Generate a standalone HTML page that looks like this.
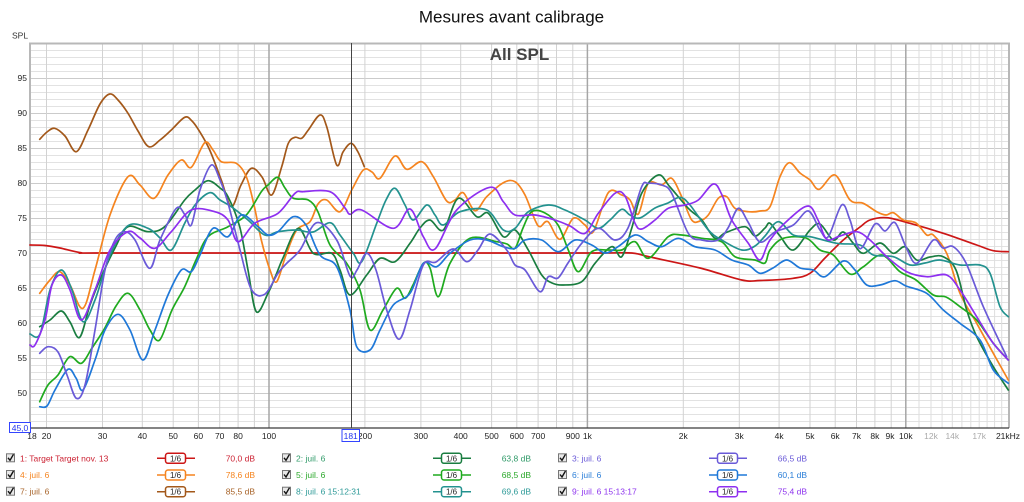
<!DOCTYPE html>
<html><head><meta charset="utf-8">
<style>
html,body{margin:0;padding:0;background:#fff;}
svg{display:block;font-family:"Liberation Sans",Arial,sans-serif;}
.c{fill:none;stroke-width:1.7;stroke-linejoin:round;stroke-linecap:round;}
</style></head>
<body>
<svg id="s" width="1024" height="502" viewBox="0 0 1024 502" xmlns="http://www.w3.org/2000/svg">
<rect width="1024" height="502" fill="#fff"/>
<text x="511.5" y="22.5" font-size="17" text-anchor="middle" fill="#111">Mesures avant calibrage</text>
<text x="12" y="38.5" font-size="8.5" fill="#333">SPL</text>

<!-- horizontal minor grid -->
<path stroke="#e2e2e2" stroke-width="1" fill="none" d="M30 50.5H1009M30 57.5H1009M30 64.5H1009M30 71.5H1009M30 85.5H1009M30 92.5H1009M30 99.5H1009M30 106.5H1009M30 120.5H1009M30 127.5H1009M30 134.5H1009M30 141.5H1009M30 155.5H1009M30 162.5H1009M30 169.5H1009M30 176.5H1009M30 190.5H1009M30 197.5H1009M30 204.5H1009M30 211.5H1009M30 225.5H1009M30 232.5H1009M30 239.5H1009M30 246.5H1009M30 260.5H1009M30 267.5H1009M30 274.5H1009M30 281.5H1009M30 295.5H1009M30 302.5H1009M30 309.5H1009M30 316.5H1009M30 330.5H1009M30 337.5H1009M30 344.5H1009M30 351.5H1009M30 365.5H1009M30 372.5H1009M30 379.5H1009M30 386.5H1009M30 400.5H1009M30 407.5H1009M30 414.5H1009M30 421.5H1009"/>
<!-- horizontal major grid -->
<path stroke="#cbcbcb" stroke-width="1" fill="none" d="M30 78.5H1009M30 113.5H1009M30 148.5H1009M30 183.5H1009M30 218.5H1009M30 253.5H1009M30 288.5H1009M30 323.5H1009M30 358.5H1009M30 393.5H1009"/>
<!-- vertical minor grid -->
<path stroke="#d2d2d2" stroke-width="1" fill="none" d="M46.5 43V428M102.5 43V428M142.3 43V428M173.2 43V428M198.4 43V428M219.7 43V428M238.1 43V428M254.4 43V428M364.9 43V428M420.9 43V428M460.7 43V428M491.6 43V428M516.8 43V428M538.1 43V428M556.5 43V428M572.8 43V428M683.3 43V428M739.3 43V428M779.1 43V428M810 43V428M835.2 43V428M856.5 43V428M874.9 43V428M891.2 43V428"/>
<path stroke="#dedede" stroke-width="1" fill="none" d="M919 43V428M931 43V428M942.1 43V428M952.3 43V428M961.9 43V428M970.8 43V428M979.2 43V428M987.1 43V428M994.6 43V428M1001.7 43V428"/>
<!-- decade lines -->
<path stroke="#a6a6a6" stroke-width="1.5" fill="none" d="M269 43V428M587.4 43V428M905.8 43V428"/>

<text x="519.5" y="60" font-size="17" font-weight="bold" text-anchor="middle" fill="#444">All SPL</text>

<!-- frame -->
<path stroke="#b8b8b8" stroke-width="2" fill="none" d="M30 428V43.5H1009V428"/>
<path stroke="#3a3a3a" stroke-width="1.2" fill="none" d="M30 428H1009"/>

<!-- Y labels -->
<g font-size="8.5" fill="#222" text-anchor="end">
<text x="27" y="81">95</text><text x="27" y="116">90</text><text x="27" y="151">85</text><text x="27" y="186">80</text><text x="27" y="221">75</text><text x="27" y="256">70</text><text x="27" y="291">65</text><text x="27" y="326">60</text><text x="27" y="361">55</text><text x="27" y="396">50</text>
</g>

<!-- series -->
<g id="series">
<polyline class="c" stroke="#cc1616" points="30,245 45,245.5 60,248 81,252.7 100,253 300,253 500,253 600,253 631.7,253 650,257 700,268 741.7,280 760,280.5 793.3,278.3 810,273.3 825,258 843.3,240 860,227 870,220 886.7,217.7 910,223.3 943.3,233.3 976.7,245 993.3,250.7 1008.3,251.7"/>
<polyline class="c" stroke="#a3581a" points="39.7,139.3 47,132 54.7,128.3 65,136 76.3,151.7 88,130 100,104 109.7,94 118,100 128,113.3 138,131 148.7,146.7 160,140 171.3,130 184.7,117.3 192,121 199.7,131.7 209.7,150 221.3,180 231.3,206.7 241,185 251.3,168.3 262,177 271.7,195 281.7,166.7 288.3,143.3 295,137.3 301.7,138.3 308.3,130 320,115 326.7,126.7 336.7,165 343,152 351,143.3 358,152 364.3,166.7"/>
<polyline class="c" stroke="#f5841f" points="39.7,293.3 50,280 59.7,271.7 70,285 83,308.3 95,270 110,215 128,176.7 140,185 154,198.3 168,175 181.3,160 191.3,167.3 204.7,142.7 213,150 221.3,161.7 236.3,163.3 246.3,176.7 254,205 261.3,240 270,270 276.7,281.7 286,255 296.7,230 310,221.7 318,204 326.7,200 340,211.7 351.7,190 363.3,170 372,172 380,178.3 395,156 406.7,169.3 421.7,161.7 433.3,176.7 446.7,201 455,200 463.3,192.7 475,210.7 486.7,196.7 503.3,182.7 515,181.7 525,195 535,220 540,226.7 548,221.7 560,239.3 573.3,218.3 585,225 593.3,231.7 608.3,192.7 621.7,195 630,200 638.3,214 648.3,183.3 661.7,185 671.7,178.3 681.7,196.7 691.7,220 700,221 708.3,215 718.3,198.3 726.7,196.7 735,208.3 748.3,211.7 760,211 770,206.7 780,176.7 789.3,162.7 800,173 810,180 819.3,189.3 835,175 850,200 863.3,203.3 876.7,211.7 886,215 893.3,212.7 903.3,220 916,223 926.7,235 933.3,235 946.7,253.3 960,293.3 976.7,323.3 993.3,353.3 1008.3,380"/>
<polyline class="c" stroke="#1a7d40" points="39.7,326.7 50,320 61.3,311 70,322 79.7,337.3 90,305 101.3,276.7 115,248 128,226.7 148,231.7 164.7,226.7 184.7,200 195,190 208,180.7 220,188 228,196.7 239.7,226.7 248,270 256.3,311.7 268,293.3 276,275 283,258 298.3,228.3 313.3,253.3 331.7,253.3 340,270 350,295 366.7,275 380,258.3 395,261.7 410,243.3 420,228 430,220 443.3,230 458.3,198.3 476.7,216.7 488.3,213.3 503.3,236.7 515,230 528.3,250 541.7,275 552,283 563.3,285 581.7,281.7 595,263.3 611.7,246.7 621.7,256.7 631.7,228.3 641.7,193.3 658.3,175 670,187 688.3,208.3 701.7,220 715,238.3 725,233 745,226.7 755,236 765,228 770,223.3 780,236 793.3,250 810,230 820,224 833.3,240 843,232 853,243 863.3,253.3 880,243 893.3,253.3 905,246.7 916.7,260 930,257 943.3,256.7 956,270 966.7,310 976.7,336.7 993.3,366.7 1008.3,390"/>
<polyline class="c" stroke="#1faa1f" points="39.7,401.7 48,385 58,375 69.7,356.7 81.3,363.3 92,348 104.7,328.3 116,306 128,293.3 140,310 150,330 159.7,340 172,310 184.7,286.7 196,260 208,236.7 228,226.7 246.3,215 261.3,191.7 268,185 277.7,177.3 285,188 293.3,198.3 308.3,200 318,212 330,245 346.7,263.3 360,290 370,330 383,310 396.7,288.3 405,298.3 413,285 423.3,263.3 430,268 438.3,296.7 450,263.3 470,238.3 496.7,241.7 507,244 515,248.3 523,228 531.7,211.7 545,213 558,225 568.3,250 578.3,271.7 591.7,251.7 608,250 621.7,250 635,241.7 648.3,258.3 668.3,236.7 681.7,235 701.7,238.3 721.7,241.7 735,256.7 755,260 765,263 770,250 783.3,238.3 806,238 820,250 833.3,255 850,274 863,267 881.7,255 900,271.7 916,280 933.3,295 946,297 960,306.7 976.7,320 993.3,343.3 1008.3,360"/>
<polyline class="c" stroke="#23928f" points="30,334 40,334 50,290 61.3,270 72,290 83,321.7 95,300 110,255 128,225.7 148,228.3 160,238 171.3,250 184.7,223.3 195,205 209.7,192.7 220,200 231.3,206.7 248,220 264.7,235 278,231.7 296.7,230 313,232 330,222.7 340,235 353.3,253.3 361.7,261.7 376.7,223.3 386,200 395,188.3 405,205 413.3,220 426.7,205 435,215 443.3,225 460,211.7 486.7,210 503.3,230 515,228.3 528,212 548.3,205 565,210 585,220 598.3,228.3 610,220 621.7,209.3 630,215 640,218 655,208 668,203 680,197.3 690,205 708.3,230 721.7,240 741.7,250 755,246 765,236 778.3,221.7 793.3,235 810,236.7 836.7,243.3 860,245 873.3,255 893.3,256.7 910,265 925,263 940,260 960,265 980,265 990,273.3 1000,306.7 1008.3,316.7"/>
<polyline class="c" stroke="#1f78d8" points="39.7,406.7 47,406 55,390 68,369.3 76,378 83,390 95,360 105,330 118,314.3 130,330 143,360 155,330 168,295 181.3,270 191.3,271.7 200,255 213,228.3 228,236.7 241.3,215 258,226.7 268,235 278,231.7 293.3,216.7 306,225 320,255 336.7,266.7 350,310 356.7,346.7 370,350 380,330 393.3,305 410,293.3 423.3,263.3 436.7,266.7 450,253.3 470,240 486.7,240 503.3,246.7 515,248.3 525,240 541.7,240 558.3,251.7 575,240 591.7,245 605,253 618,246.7 635,235 648.3,241.7 661.7,246.7 678.3,238.3 695,246.7 715,250 731.7,260 748.3,265 760,273.3 773,268 786.7,260 800,268 813.3,270 825,276.7 843.3,261 855,270 866.7,285 880,285 895,280.7 906,286 926.7,293.3 943.3,310 960,323.3 980,340 993.3,370 1008.3,383.3"/>
<polyline class="c" stroke="#6a5ad8" points="39.7,353.3 48,346.7 58,352 67,375 76.3,398.3 85,385 95,330 105,270 115,240 124.7,231.7 135,240 149.7,268.3 160,240 176.3,208.3 185,215 191.3,225 200,190 211.3,165 220,180 228,203 240,250 251.3,289.3 264.7,294.3 278,273.3 286.7,263.3 300,250 316.7,222.7 336.7,240 350,276 357,270 366.7,253.3 376,270 386.7,310 399,339.3 410,310 423.3,265 436,262 453.3,249 466.7,261.7 478,250 490,234 506.7,250 515,265 525,270 540,291.7 548.3,276.7 558,278 568,263 581.7,243.3 598.3,228.3 615,240 628,228 641.7,186.7 648.3,183.3 661.7,185 671.7,193.3 688.3,233.3 701.7,240 718,240 728,228 738.3,208.3 748,222 760,242 775,232 793.3,225 808.3,211 820,230 828.3,236.7 841.7,205 850,220 860,248.7 875,224 885,231 895,222.7 906,247 916.7,263.3 933.3,240 943,248 953.3,246.7 966,263 983.3,306.7 1006.7,356.7"/>
<polyline class="c" stroke="#8e2ff0" points="30,345 35,345 45,320 52,285 61.3,275 70,290 81.3,320 95,290 110,250 128,231.7 140,238 154.7,248.3 171.3,231.7 191.3,210 214.7,211.7 228,220 238,241.7 254.7,223.3 278,213.3 295,193.3 303.3,191.7 330,191.7 345,208 350,214.3 361.7,210 393.3,228.3 410,209 423.3,236.7 435,249 456.7,210 490,187.3 503.3,201.7 515,215 535,215 555,220 570,226 585,233.3 598.3,213.3 615,193.3 625,196 635,223.3 641.7,229 655,220 668.3,208.3 685,205 698.3,200 713.3,184 722,195 731.7,220 748.3,243.3 760,260 770,240 790,218.3 808.3,206 818,220 826.7,239.3 840,236 856.7,231.7 870,240 886.7,256.7 906.7,271.7 926.7,276.7 946.7,275 960,290 976.7,316.7 993.3,343.3 1008.3,360"/>
</g>

<!-- cursor -->
<path stroke="#444" stroke-width="1" fill="none" d="M351.5 43V428"/>

<!-- X labels -->
<g font-size="8.5" fill="#222" text-anchor="middle">
<text x="32" y="439">18</text><text x="46.5" y="439">20</text><text x="102.5" y="439">30</text><text x="142.3" y="439">40</text><text x="173.2" y="439">50</text><text x="198.4" y="439">60</text><text x="219.7" y="439">70</text><text x="238.1" y="439">80</text><text x="269" y="439">100</text>
<text x="365" y="439">200</text><text x="420.9" y="439">300</text><text x="460.7" y="439">400</text><text x="491.6" y="439">500</text><text x="516.8" y="439">600</text><text x="538.1" y="439">700</text><text x="572.8" y="439">900</text><text x="587.4" y="439">1k</text>
<text x="683.3" y="439">2k</text><text x="739.3" y="439">3k</text><text x="779.1" y="439">4k</text><text x="810" y="439">5k</text><text x="835.2" y="439">6k</text><text x="856.5" y="439">7k</text><text x="874.9" y="439">8k</text><text x="890" y="439">9k</text><text x="905.8" y="439">10k</text>
<text x="931" y="439" fill="#aaa">12k</text><text x="952.3" y="439" fill="#aaa">14k</text><text x="979.2" y="439" fill="#aaa">17k</text><text x="1008" y="439">21kHz</text>
</g>
<rect x="342" y="429.5" width="17.5" height="12" fill="#fff" stroke="#3344ff" stroke-width="1"/>
<text x="350.7" y="439" font-size="8.5" fill="#2233ee" text-anchor="middle">181</text>
<rect x="9.5" y="422.5" width="21" height="10" fill="#fff" stroke="#3344ff" stroke-width="1"/>
<text x="20" y="431" font-size="8.5" fill="#2233ee" text-anchor="middle">45,0</text>

<!-- legend -->
<g id="legend" font-size="8.5"></g>
<g font-size="8.5">
<!-- row 1 -->
<g transform="translate(0,458.3)">
 <rect x="6.5" y="-4.5" width="8" height="8" fill="#e8e8e8" stroke="#777"/><path d="M8,-0.5 L10,2 L13.5,-4" stroke="#111" stroke-width="1.4" fill="none"/>
 <text x="20" y="3" fill="#cc2233">1: Target Target nov. 13</text>
 <path d="M157 0H195" stroke="#cc1616" stroke-width="1.5"/><rect x="165.5" y="-5" width="20" height="10" rx="2.5" fill="#fff" stroke="#cc1616" stroke-width="1.5"/><text x="175.5" y="3" font-size="8" fill="#222" text-anchor="middle">1/6</text>
 <text x="255" y="3" fill="#cc2233" text-anchor="end">70,0 dB</text>

 <rect x="282.5" y="-4.5" width="8" height="8" fill="#e8e8e8" stroke="#777"/><path d="M284,-0.5 L286,2 L289.5,-4" stroke="#111" stroke-width="1.4" fill="none"/>
 <text x="296" y="3" fill="#2f9a68">2: juil. 6</text>
 <path d="M433 0H471" stroke="#1a7d40" stroke-width="1.5"/><rect x="441.5" y="-5" width="20" height="10" rx="2.5" fill="#fff" stroke="#1a7d40" stroke-width="1.5"/><text x="451.5" y="3" font-size="8" fill="#222" text-anchor="middle">1/6</text>
 <text x="531" y="3" fill="#2f9a68" text-anchor="end">63,8 dB</text>

 <rect x="558.5" y="-4.5" width="8" height="8" fill="#e8e8e8" stroke="#777"/><path d="M560,-0.5 L562,2 L565.5,-4" stroke="#111" stroke-width="1.4" fill="none"/>
 <text x="572" y="3" fill="#6a5ad8">3: juil. 6</text>
 <path d="M709 0H747" stroke="#6a5ad8" stroke-width="1.5"/><rect x="717.5" y="-5" width="20" height="10" rx="2.5" fill="#fff" stroke="#6a5ad8" stroke-width="1.5"/><text x="727.5" y="3" font-size="8" fill="#222" text-anchor="middle">1/6</text>
 <text x="807" y="3" fill="#6a5ad8" text-anchor="end">66,5 dB</text>
</g>
<!-- row 2 -->
<g transform="translate(0,475)">
 <rect x="6.5" y="-4.5" width="8" height="8" fill="#e8e8e8" stroke="#777"/><path d="M8,-0.5 L10,2 L13.5,-4" stroke="#111" stroke-width="1.4" fill="none"/>
 <text x="20" y="3" fill="#f5841f">4: juil. 6</text>
 <path d="M157 0H195" stroke="#f5841f" stroke-width="1.5"/><rect x="165.5" y="-5" width="20" height="10" rx="2.5" fill="#fff" stroke="#f5841f" stroke-width="1.5"/><text x="175.5" y="3" font-size="8" fill="#222" text-anchor="middle">1/6</text>
 <text x="255" y="3" fill="#f5841f" text-anchor="end">78,6 dB</text>

 <rect x="282.5" y="-4.5" width="8" height="8" fill="#e8e8e8" stroke="#777"/><path d="M284,-0.5 L286,2 L289.5,-4" stroke="#111" stroke-width="1.4" fill="none"/>
 <text x="296" y="3" fill="#2aa82a">5: juil. 6</text>
 <path d="M433 0H471" stroke="#1faa1f" stroke-width="1.5"/><rect x="441.5" y="-5" width="20" height="10" rx="2.5" fill="#fff" stroke="#1faa1f" stroke-width="1.5"/><text x="451.5" y="3" font-size="8" fill="#222" text-anchor="middle">1/6</text>
 <text x="531" y="3" fill="#2aa82a" text-anchor="end">68,5 dB</text>

 <rect x="558.5" y="-4.5" width="8" height="8" fill="#e8e8e8" stroke="#777"/><path d="M560,-0.5 L562,2 L565.5,-4" stroke="#111" stroke-width="1.4" fill="none"/>
 <text x="572" y="3" fill="#2a7ed8">6: juil. 6</text>
 <path d="M709 0H747" stroke="#1f78d8" stroke-width="1.5"/><rect x="717.5" y="-5" width="20" height="10" rx="2.5" fill="#fff" stroke="#1f78d8" stroke-width="1.5"/><text x="727.5" y="3" font-size="8" fill="#222" text-anchor="middle">1/6</text>
 <text x="807" y="3" fill="#2a7ed8" text-anchor="end">60,1 dB</text>
</g>
<!-- row 3 -->
<g transform="translate(0,491.7)">
 <rect x="6.5" y="-4.5" width="8" height="8" fill="#e8e8e8" stroke="#777"/><path d="M8,-0.5 L10,2 L13.5,-4" stroke="#111" stroke-width="1.4" fill="none"/>
 <text x="20" y="3" fill="#a8642a">7: juil. 6</text>
 <path d="M157 0H195" stroke="#a3581a" stroke-width="1.5"/><rect x="165.5" y="-5" width="20" height="10" rx="2.5" fill="#fff" stroke="#a3581a" stroke-width="1.5"/><text x="175.5" y="3" font-size="8" fill="#222" text-anchor="middle">1/6</text>
 <text x="255" y="3" fill="#a8642a" text-anchor="end">85,5 dB</text>

 <rect x="282.5" y="-4.5" width="8" height="8" fill="#e8e8e8" stroke="#777"/><path d="M284,-0.5 L286,2 L289.5,-4" stroke="#111" stroke-width="1.4" fill="none"/>
 <text x="296" y="3" fill="#2e9a98">8: juil. 6 15:12:31</text>
 <path d="M433 0H471" stroke="#23928f" stroke-width="1.5"/><rect x="441.5" y="-5" width="20" height="10" rx="2.5" fill="#fff" stroke="#23928f" stroke-width="1.5"/><text x="451.5" y="3" font-size="8" fill="#222" text-anchor="middle">1/6</text>
 <text x="531" y="3" fill="#2e9a98" text-anchor="end">69,6 dB</text>

 <rect x="558.5" y="-4.5" width="8" height="8" fill="#e8e8e8" stroke="#777"/><path d="M560,-0.5 L562,2 L565.5,-4" stroke="#111" stroke-width="1.4" fill="none"/>
 <text x="572" y="3" fill="#8e35ee">9: juil. 6 15:13:17</text>
 <path d="M709 0H747" stroke="#8e2ff0" stroke-width="1.5"/><rect x="717.5" y="-5" width="20" height="10" rx="2.5" fill="#fff" stroke="#8e2ff0" stroke-width="1.5"/><text x="727.5" y="3" font-size="8" fill="#222" text-anchor="middle">1/6</text>
 <text x="807" y="3" fill="#8e35ee" text-anchor="end">75,4 dB</text>
</g>
</g>
</svg>
<script>
(function(){
  var NS="http://www.w3.org/2000/svg";
  var pls=document.querySelectorAll("polyline.c");
  for(var k=0;k<pls.length;k++){
    var p=pls[k];
    var pts=p.getAttribute("points").trim().split(/\s+/).map(function(s){return s.split(",").map(Number);});
    var d="M"+pts[0][0]+","+pts[0][1];
    for(var i=0;i<pts.length-1;i++){
      var p0=pts[i-1]||pts[i],p1=pts[i],p2=pts[i+1],p3=pts[i+2]||pts[i+1];
      var c1x=p1[0]+(p2[0]-p0[0])/6,c1y=p1[1]+(p2[1]-p0[1])/6;
      var c2x=p2[0]-(p3[0]-p1[0])/6,c2y=p2[1]-(p3[1]-p1[1])/6;
      d+="C"+c1x.toFixed(2)+","+c1y.toFixed(2)+" "+c2x.toFixed(2)+","+c2y.toFixed(2)+" "+p2[0]+","+p2[1];
    }
    var path=document.createElementNS(NS,"path");
    path.setAttribute("d",d);
    path.setAttribute("class","c");
    path.setAttribute("stroke",p.getAttribute("stroke"));
    p.parentNode.replaceChild(path,p);
  }
})();
</script>
</body></html>
